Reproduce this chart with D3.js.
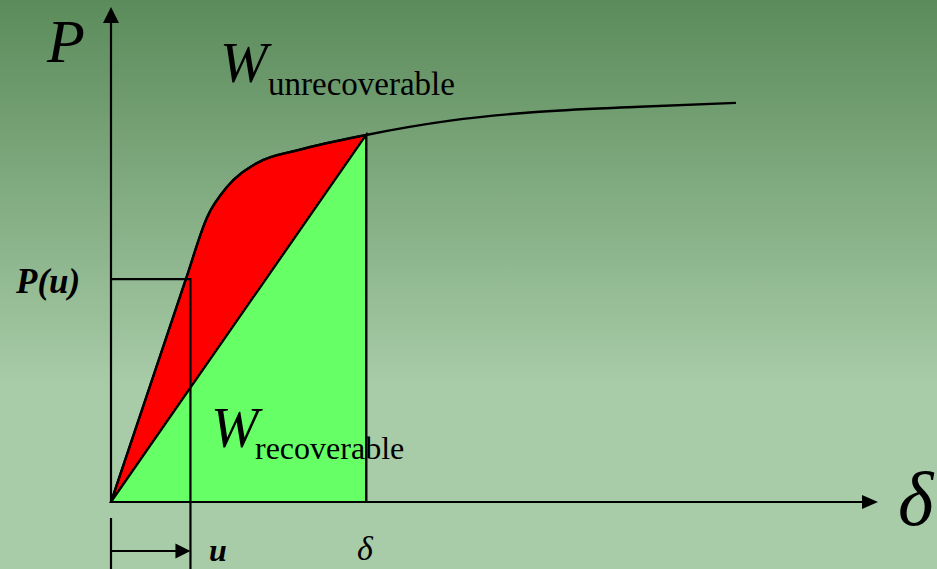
<!DOCTYPE html>
<html>
<head>
<meta charset="utf-8">
<script src="https://cdn.jsdelivr.net/npm/d3@7"></script>
<style>
  html, body { margin: 0; padding: 0; overflow: hidden; }
  svg { display: block; }
</style>
</head>
<body>
<svg id="chart" width="937" height="569"></svg>
<script>
// Load–displacement curve (abstract units)
const curveX = [0, 0.5, 0.98, 1.26, 1.52, 1.91, 2.47, 3.34, 4.44, 5.52, 6.92, 8.18];
const curveP = [0, 2.30, 4.51, 5.77, 6.38, 6.86, 7.13, 7.43, 7.72, 7.89, 8.0, 8.08];

// marked points
const uValue = 1.04;
const pOfU = 4.51;
const deltaValue = 3.34;
const pOfDelta = 7.43;

const svg = d3.select("#chart");
const width = +svg.attr("width");
const height = +svg.attr("height");

const x = d3.scaleLinear().domain([0, 10]).range([111, 875]);
const y = d3.scaleLinear().domain([0, 10]).range([502, 8]);

// Background gradient
const defs = svg.append("defs");
const grad = defs.append("linearGradient")
  .attr("id", "bg").attr("x1", 0).attr("y1", 0).attr("x2", 0).attr("y2", 1);
grad.append("stop").attr("offset", "0%").attr("stop-color", "#5b8b5b");
grad.append("stop").attr("offset", "68%").attr("stop-color", "#a8cca8");
grad.append("stop").attr("offset", "100%").attr("stop-color", "#a8cca8");

svg.append("rect")
  .attr("width", width).attr("height", height)
  .attr("fill", "url(#bg)");

const pts = curveX.map((d, i) => [d, curveP[i]]);
const line = d3.line()
  .x(d => x(d[0]))
  .y(d => y(d[1]))
  .curve(d3.curveMonotoneX);

// Red area: between curve and chord, up to delta
const redPts = pts.filter(d => d[0] <= deltaValue);
svg.append("path")
  .attr("d", line(redPts) + "Z")
  .attr("fill", "#ff0000")
  .attr("stroke", "#000")
  .attr("stroke-width", 2.2);

// Green triangle: recoverable energy
const tri = [[0, 0], [deltaValue, pOfDelta], [deltaValue, 0]];
svg.append("path")
  .attr("d", d3.line().x(d => x(d[0])).y(d => y(d[1]))(tri) + "Z")
  .attr("fill", "#66ff66")
  .attr("stroke", "#000")
  .attr("stroke-width", 2.2);

// Full curve
svg.append("path")
  .attr("d", line(pts))
  .attr("fill", "none")
  .attr("stroke", "#000")
  .attr("stroke-width", 2.4);

// Axes with arrowheads
const axes = svg.append("g").attr("stroke", "#000").attr("stroke-width", 2.2);
axes.append("line")
  .attr("x1", x(0)).attr("y1", y(0))
  .attr("x2", x(0)).attr("y2", 20);
axes.append("line")
  .attr("x1", x(0)).attr("y1", y(0))
  .attr("x2", 864).attr("y2", y(0));

function arrow(tipX, tipY, dir, len, half) {
  // dir: "up" or "right"
  let p;
  if (dir === "up") p = [[tipX, tipY], [tipX - half, tipY + len], [tipX + half, tipY + len]];
  else p = [[tipX, tipY], [tipX - len, tipY - half], [tipX - len, tipY + half]];
  svg.append("path")
    .attr("d", "M" + p.map(q => q.join(",")).join("L") + "Z")
    .attr("fill", "#000");
}
arrow(x(0), 7, "up", 16, 8);
arrow(878, y(0), "right", 16, 7);

// P(u) guide lines
const guide = svg.append("g").attr("stroke", "#000").attr("stroke-width", 2.2).attr("fill", "none");
guide.append("path")
  .attr("d", `M${x(0)},${y(pOfU)}H${x(uValue)}V${height}`);
guide.append("line")
  .attr("x1", x(0)).attr("y1", 518)
  .attr("x2", x(0)).attr("y2", height);
guide.append("line")
  .attr("x1", x(0)).attr("y1", 551)
  .attr("x2", x(uValue) - 12).attr("y2", 551);
arrow(x(uValue), 551, "right", 15, 7.5);

// Labels
const serif = "'Liberation Serif', 'Times New Roman', serif";
function label(txt, px, py, size, opts = {}) {
  return svg.append("text")
    .attr("x", px).attr("y", py)
    .attr("font-family", serif)
    .attr("font-size", size)
    .attr("font-style", opts.italic ? "italic" : "normal")
    .attr("font-weight", opts.bold ? "bold" : "normal")
    .attr("fill", "#000")
    .text(txt);
}
label("P", 47, 62, 62, { italic: true });
label("W", 220, 82, 57, { italic: true });
label("unrecoverable", 268, 95, 33);
label("W", 211, 447, 57, { italic: true });
label("recoverable", 255, 459, 32);
label("P(u)", 16, 293, 35, { italic: true, bold: true });
label("u", 209, 561, 32, { italic: true, bold: true });
label("δ", 357, 560, 34, { italic: true });
label("δ", 898, 525, 76, { italic: true });

// redraw the delta vertical edge on top of the subscript text
svg.append("line")
  .attr("x1", x(deltaValue)).attr("y1", y(pOfDelta))
  .attr("x2", x(deltaValue)).attr("y2", y(0))
  .attr("stroke", "#000").attr("stroke-width", 2.2);
</script>
</body>
</html>
